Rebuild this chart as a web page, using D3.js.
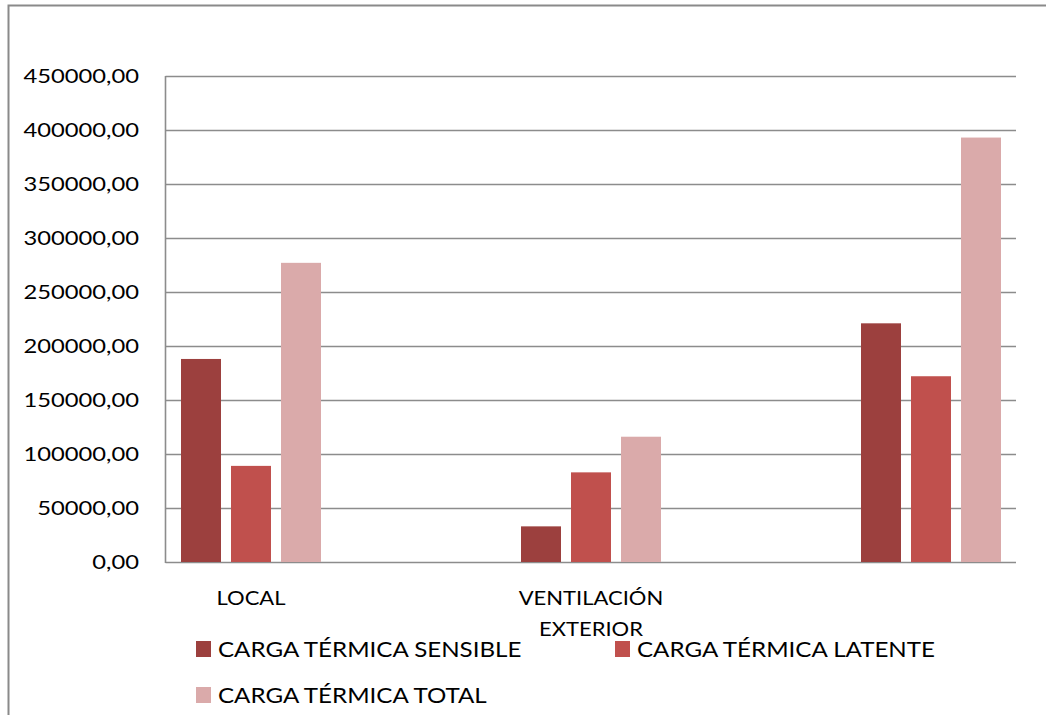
<!DOCTYPE html>
<html>
<head>
<meta charset="utf-8">
<script src="https://cdn.jsdelivr.net/npm/d3@7"></script>
<style>
  html, body { margin: 0; padding: 0; background: #fff; }
  svg { display: block; }
  text { font-family: Lato, "Open Sans", sans-serif; fill: #000; }
</style>
</head>
<body>
<svg id="chart" width="1046" height="715"></svg>
<script>
// Thermal load by source
const categories = ["LOCAL", "VENTILACIÓN\nEXTERIOR", ""];
const seriesNames = ["CARGA TÉRMICA SENSIBLE", "CARGA TÉRMICA LATENTE", "CARGA TÉRMICA TOTAL"];
const sensible = [188000, 33000, 221000];
const latente  = [89000, 83000, 172000];
const total    = [277000, 116000, 393000];
const yTicks = [0, 50000, 100000, 150000, 200000, 250000, 300000, 350000, 400000, 450000];
const colors = ["#9c403e", "#c0504d", "#daaaaa"];

const seriesValues = [sensible, latente, total];
const svg = d3.select("#chart");
// horizontal text widening per text kind
const STRETCH_TICK = 1.25, STRETCH_CAT = 1.1, STRETCH_LEG = 1.15;

// Chart frame (top and left edge)
svg.append("path")
  .attr("d", "M8.5,715 L8.5,5.5 L1046,5.5")
  .attr("fill", "none").attr("stroke", "#8a8a8a").attr("stroke-width", 2);

const plot = { left: 165.5, right: 1016, top: 76, bottom: 562 };

const y = d3.scaleLinear().domain([0, 450000]).range([plot.bottom, plot.top]);
const x0 = d3.scaleBand().domain(d3.range(categories.length)).range([81, 1101]).padding(0);
const x1 = d3.scaleBand().domain(d3.range(seriesNames.length)).range([-70, 70]).paddingInner(0.2);

// Gridlines
svg.append("g").selectAll("line").data(yTicks).join("line")
  .attr("x1", plot.left).attr("x2", plot.right)
  .attr("y1", d => Math.round(y(d)) + 0.5).attr("y2", d => Math.round(y(d)) + 0.5)
  .attr("stroke", "#8c8c8c").attr("stroke-width", 1.6);

// Y axis line
svg.append("line")
  .attr("x1", plot.left).attr("x2", plot.left)
  .attr("y1", plot.top).attr("y2", plot.bottom + 1)
  .attr("stroke", "#8c8c8c").attr("stroke-width", 1.6);

// Y tick labels
const fmt = v => d3.format(".2f")(v).replace(".", ",");
svg.append("g").selectAll("text").data(yTicks).join("text")
  .attr("transform", d => `translate(139,${y(d)}) scale(${STRETCH_TICK},1)`)
  .attr("text-anchor", "end").attr("dominant-baseline", "central")
  .style("font-size", "19px")
  .text(fmt);

// Bars
const groups = svg.append("g").selectAll("g").data(categories).join("g")
  .attr("transform", (d, i) => `translate(${x0(i) + x0.bandwidth() / 2},0)`);

groups.selectAll("rect")
  .data((d, i) => seriesValues.map((s, k) => ({ k, v: s[i] })))
  .join("rect")
  .attr("x", d => x1(d.k))
  .attr("width", x1.bandwidth())
  .attr("y", d => y(d.v))
  .attr("height", d => y(0) - y(d.v))
  .attr("fill", d => colors[d.k]);

// Category labels (multi-line)
groups.each(function (d) {
  const lines = d.split("\n");
  lines.forEach((ln, j) => {
    d3.select(this).append("text")
      .attr("transform", `translate(0,${597 + j * 31}) scale(${STRETCH_CAT},1)`)
      .attr("text-anchor", "middle").attr("dominant-baseline", "central")
      .style("font-size", "20px")
      .text(ln);
  });
});

// Legend
const legendPos = [[196, 649], [615, 649], [196, 695]];
const legend = svg.append("g").selectAll("g").data(seriesNames).join("g")
  .attr("transform", (d, i) => `translate(${legendPos[i][0]},${legendPos[i][1]})`);
legend.append("rect")
  .attr("x", 0).attr("y", -8).attr("width", 15).attr("height", 16)
  .attr("fill", (d, i) => colors[i]);
legend.append("text")
  .attr("transform", `translate(22,0) scale(${STRETCH_LEG},1)`)
  .attr("dominant-baseline", "central")
  .style("font-size", "21px")
  .text(d => d);
</script>
</body>
</html>
